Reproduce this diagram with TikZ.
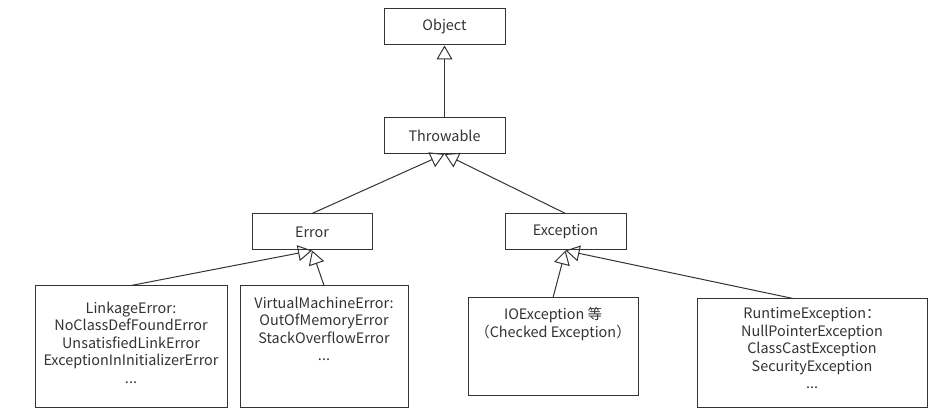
\documentclass[tikz,border=0pt]{standalone}
\usepackage{fontspec}
\setmainfont{Noto Sans CJK SC}
\usetikzlibrary{arrows.meta}

\begin{document}
\begin{tikzpicture}[x=0.75pt, y=-0.75pt, >=Latex,
    cls/.style={draw=black!80, line width=0.75pt, minimum height=27pt, inner sep=0pt, font=\fontsize{10.8}{13.1}\selectfont, text=black!80},
    big/.style={draw=black!80, line width=0.75pt, inner sep=0pt},
    body/.style={anchor=north, align=center, inner sep=0pt, font=\fontsize{10.8}{13.1}\selectfont, text=black!80},
    inherit/.style={draw=black!80, line width=0.75pt, -{Triangle[open, length=10.5pt, width=12pt]}}]
  \useasboundingbox (0,0) rectangle (941,416);
  % class nodes
  \node[cls, minimum width=90.75pt] (object) at (444.5,27) {Object};
  \node[cls, minimum width=90.75pt] (throwable) at (444.5,135.5) {Throwable};
  \node[cls, minimum width=90pt] (error) at (312,232) {Error};
  \node[cls, minimum width=90.75pt] (exception) at (565.5,232) {Exception};
  % boxes with lists
  \node[big, minimum width=144pt, minimum height=90.75pt] (linkage) at (131,346.5) {};
  \node[big, minimum width=126pt, minimum height=90.75pt] (vmerror) at (324,346.5) {};
  \node[big, minimum width=127.5pt, minimum height=72.75pt] (ioexc) at (553,346.5) {};
  \node[big, minimum width=172.5pt, minimum height=81pt] (runtime) at (812,353) {};
  \node[body, yshift=-12pt] (linkagetxt) at (linkage.north)
    {LinkageError:\\NoClassDefFoundError\\UnsatisfiedLinkError\\ExceptionInInitializerError\\...};
  \node[body, yshift=-8.25pt] (vmerrortxt) at (vmerror.north)
    {VirtualMachineError:\\OutOfMemoryError\\StackOverflowError\\...};
  \node[body, yshift=-7.5pt] (ioexctxt) at (ioexc.north)
    {IOException 等\\（Checked Exception）};
  \node[body, yshift=-6.75pt] (runtimetxt) at (runtime.north)
    {RuntimeException：\\NullPointerException\\ClassCastException\\SecurityException\\...};
  % generalisation arrows
  \foreach \c/\p in {throwable/object, error/throwable, exception/throwable,
                     linkage/error, vmerror/error, ioexc/exception} {
    \draw[inherit] (\c.north) -- (\p.south);
  }
  \draw[inherit] ([xshift=-14.25pt]runtime.north) -- (exception.south);
\end{tikzpicture}
\end{document}
